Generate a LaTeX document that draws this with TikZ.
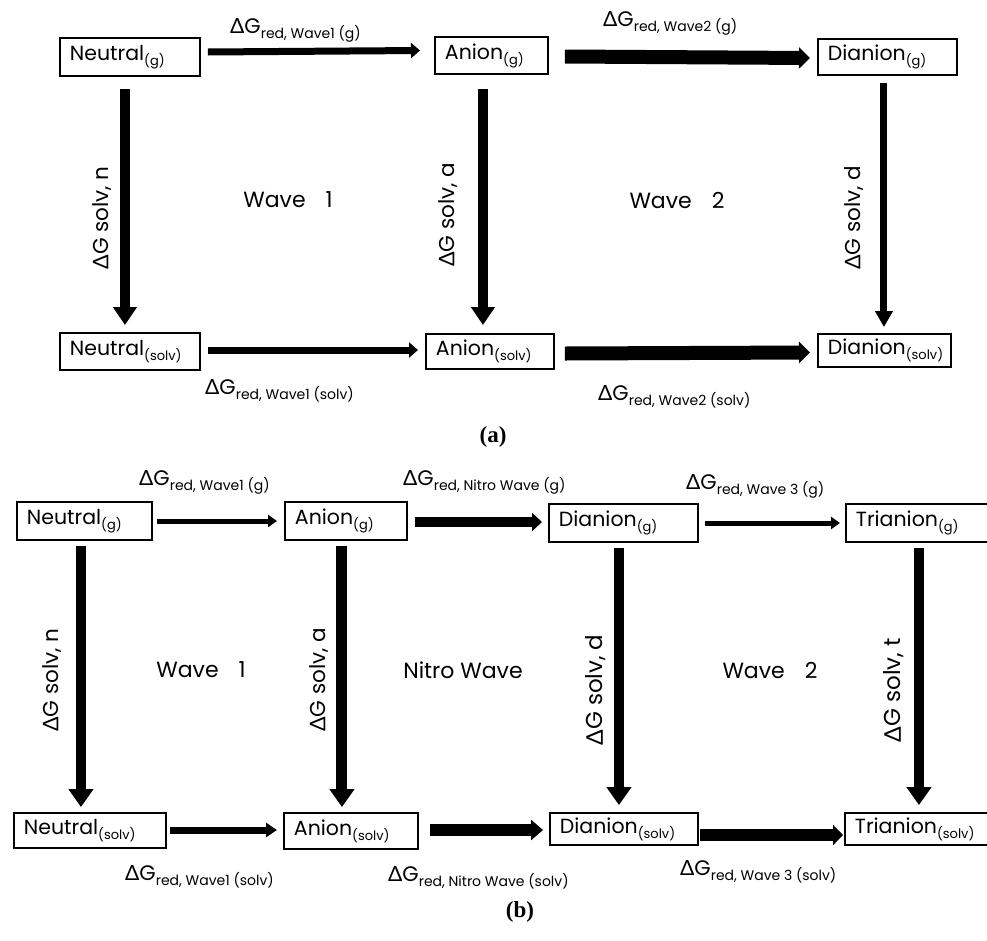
\documentclass[tikz,border=0pt]{standalone}
\usepackage{fontspec}
\setmainfont{Poppins}
\newfontfamily\dfont{Lato}
\newfontfamily\capfont{Liberation Serif}
\usetikzlibrary{arrows.meta}
\newcommand\bsub[1]{\raisebox{-5pt}{\fontsize{13}{13}\selectfont #1}}
\newcommand\gsub[1]{\raisebox{-5pt}{\fontsize{14}{14}\selectfont #1}}
\newcommand\dG[1]{{\dfont Δ}G\gsub{#1}}
\newcommand\dS[1]{{\dfont Δ}G solv, #1}
\begin{document}
\begin{tikzpicture}[x=1pt,y=-1pt,
 box/.style={draw, line width=1.9pt, inner xsep=10pt, inner ysep=0pt, align=left, anchor=west, font=\fontsize{20.5}{22}\selectfont, text width=#1},
 bh/.style={minimum height=#1},
 conn/.style n args={3}{line width=#1, -{Triangle[length=#2,width=#3]}},
 lab/.style={anchor=base west, inner sep=0pt, font=\fontsize{21}{24}\selectfont},
 side/.style={rotate=90, inner sep=0pt, font=\fontsize{21.5}{24}\selectfont},
 wave/.style={inner sep=0pt, font=\fontsize{22}{24}\selectfont},
 capt/.style={inner sep=0pt, font=\capfont\bfseries\fontsize{23}{25}\selectfont}]
\useasboundingbox (0,0) rectangle (987,940);

% ---------- panel (a) ----------
\node[box=120pt, bh=38pt] (aNg) at (59,57) {Neutral\bsub{(g)}};
\node[box=93pt,  bh=37pt] (aAg) at (434,55.5) {Anion\bsub{(g)}};
\node[box=119pt, bh=36pt] (aDg) at (817,57) {Dianion\bsub{(g)}};
\node[box=120pt, bh=37pt] (aNs) at (59,351.5) {Neutral\bsub{(solv)}};
\node[box=108pt, bh=35pt] (aAs) at (425,351.5) {Anion\bsub{(solv)}};
\node[box=113pt, bh=33pt] (aDs) at (817,350.5) {Dianion\bsub{(solv)}};

\draw[conn={7pt}{9pt}{15pt}] ([xshift=7pt,yshift=5pt]aNg.east) -- ([xshift=-14pt,yshift=5pt]aAg.west);
\draw[conn={14pt}{11pt}{21pt}] ([xshift=16pt,yshift=-1pt]aAg.east) -- ([xshift=-7pt,yshift=-1pt]aDg.west);
\draw[conn={7pt}{9pt}{15pt}] ([xshift=7pt,yshift=1.5pt]aNs.east) -- ([xshift=-7pt,yshift=1.5pt]aAs.west);
\draw[conn={14pt}{11pt}{21pt}] ([xshift=10pt,yshift=-2pt]aAs.east) -- ([xshift=-7pt,yshift=-2pt]aDs.west);

\draw[conn={10pt}{18pt}{23pt}] ([xshift=-5pt,yshift=-12pt]aNg.south) -- ([xshift=-5pt,yshift=7pt]aNs.north);
\draw[conn={10pt}{18pt}{23pt}] ([xshift=-8.5pt,yshift=-14pt]aAg.south) -- ([xshift=-7pt,yshift=8pt]aAs.north);
\draw[conn={7pt}{16pt}{17pt}] ([xshift=-3.5pt,yshift=-7pt]aDg.south) -- ([xshift=-0.5pt,yshift=6pt]aDs.north);

\node[lab] (aL1) at (230,33) {\dG{red, Wave1 (g)}};
\node[lab] (aL2) at (603,26) {\dG{red, Wave2 (g)}};
\node[lab] (aL3) at (205,394) {\dG{red, Wave1 (solv)}};
\node[lab] (aL4) at (598,400) {\dG{red, Wave2 (solv)}};

\node[side] (aSn) at (102,218) {\dS{n}};
\node[side] (aSa) at (448,215) {\dS{a}};
\node[side] (aSd) at (854,218) {\dS{d}};
\node[wave] (aW1) at (288,200) {Wave\hspace{20pt}1};
\node[wave] (aW2) at (677,200) {Wave\hspace{20pt}2};
\node[capt] (capa) at (493,437) {(a)};

% ---------- panel (b) ----------
\node[box=115pt, bh=38pt] (bNg) at (16,521) {Neutral\bsub{(g)}};
\node[box=102pt, bh=38pt] (bAg) at (284,521) {Anion\bsub{(g)}};
\node[box=129pt, bh=38pt] (bDg) at (548,523) {Dianion\bsub{(g)}};
\node[box=135pt, bh=38pt] (bTg) at (845,523) {Trianion\bsub{(g)}};
\node[box=132pt, bh=35pt] (bNs) at (13,830.5) {Neutral\bsub{(solv)}};
\node[box=114pt, bh=36pt] (bAs) at (283,831) {Anion\bsub{(solv)}};
\node[box=128pt, bh=32pt] (bDs) at (549,829) {Dianion\bsub{(solv)}};
\node[box=136pt, bh=32pt] (bTs) at (844,829) {Trianion\bsub{(solv)}};

\draw[conn={5pt}{9pt}{12pt}] ([xshift=4pt]bNg.east) -- ([xshift=-7pt]bAg.west);
\draw[conn={10pt}{10pt}{18pt}] ([xshift=7pt,yshift=-1pt]bAg.east) -- ([xshift=-6pt,yshift=1pt]bDg.west);
\draw[conn={5pt}{9pt}{12pt}] ([xshift=6pt]bDg.east) -- ([xshift=-5pt]bTg.west);
\draw[conn={7pt}{11pt}{14pt}] ([xshift=3pt,yshift=0.5pt]bNs.east) -- ([xshift=-6pt,yshift=1pt]bAs.west);
\draw[conn={12pt}{12pt}{20pt}] ([xshift=11pt,yshift=1pt]bAs.east) -- ([xshift=-6pt,yshift=-1pt]bDs.west);
\draw[conn={12pt}{10pt}{20pt}] ([xshift=1pt,yshift=-6pt]bDs.east) -- ([xshift=-1pt,yshift=-6pt]bTs.west);

\draw[conn={10pt}{18pt}{24pt}] ([xshift=-3.5pt,yshift=-5pt]bNg.south) -- ([xshift=-9pt,yshift=5pt]bNs.north);
\draw[conn={11pt}{18pt}{24pt}] ([xshift=-4pt,yshift=-5pt]bAg.south) -- ([xshift=-9pt,yshift=5pt]bAs.north);
\draw[conn={10pt}{18pt}{24pt}] ([xshift=-4.5pt,yshift=-5pt]bDg.south) -- ([xshift=-5pt,yshift=7pt]bDs.north);
\draw[conn={10pt}{18pt}{24pt}] ([xshift=-4.5pt,yshift=-5pt]bTg.south) -- ([xshift=-4pt,yshift=7pt]bTs.north);

\node[lab] (bL1) at (139,485) {\dG{red, Wave1 (g)}};
\node[lab] (bL2) at (403,485) {\dG{red, Nitro Wave (g)}};
\node[lab] (bL3) at (686,489) {\dG{red, Wave 3 (g)}};
\node[lab] (bL4) at (125,880) {\dG{red, Wave1 (solv)}};
\node[lab] (bL5) at (388,881) {\dG{red, Nitro Wave (solv)}};
\node[lab] (bL6) at (680,875) {\dG{red, Wave 3 (solv)}};

\node[side] (bSn) at (52,680) {\dS{n}};
\node[side] (bSa) at (319,680) {\dS{a}};
\node[side, font=\fontsize{23}{26}\selectfont] (bSd) at (596,690) {\dS{d}};
\node[side, font=\fontsize{23}{26}\selectfont] (bSt) at (894,690) {\dS{t}};
\node[wave] (bW1) at (201,670) {Wave\hspace{20pt}1};
\node[wave] (bWN) at (463,670) {Nitro Wave};
\node[wave] (bW2) at (770,670) {Wave\hspace{20pt}2};
\node[capt] (capb) at (520,912) {(b)};
\end{tikzpicture}
\end{document}
